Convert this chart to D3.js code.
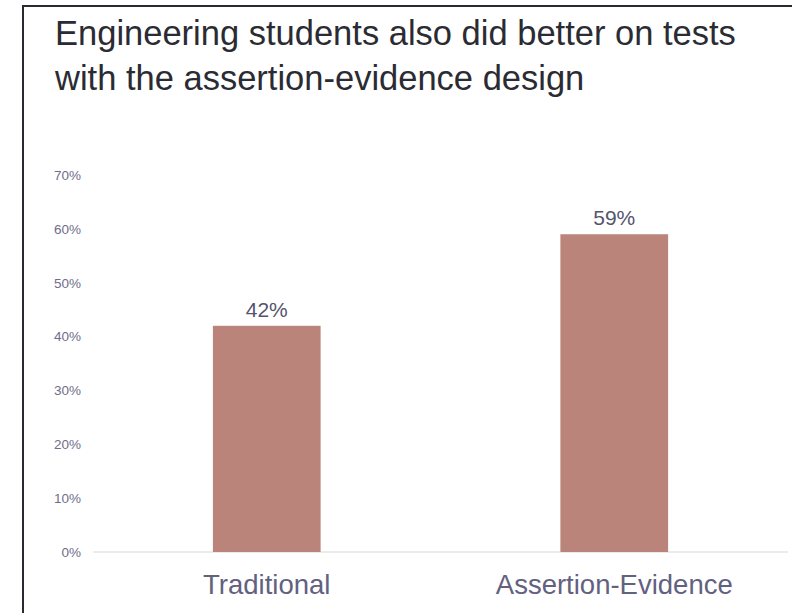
<!DOCTYPE html>
<html>
<head>
<meta charset="utf-8">
<script src="https://cdn.jsdelivr.net/npm/d3@7"></script>
<style>
  html, body { margin: 0; padding: 0; background: #ffffff; }
  svg { display: block; font-family: "Liberation Sans", Arial, sans-serif; }
</style>
</head>
<body>
<svg id="chart" width="792" height="613"></svg>
<script>
// Test scores by slide design
const categories = ["Traditional", "Assertion-Evidence"];
const scores = [42, 59];
const yTicks = [0, 10, 20, 30, 40, 50, 60, 70];
const titleLines = [
  "Engineering students also did better on tests",
  "with the assertion-evidence design"
];

const svg = d3.select("#chart");
const W = 792, H = 613;

// frame (left and top edges)
svg.append("path")
  .attr("d", `M23,${H} L23,6 L${W},6`)
  .attr("fill", "none")
  .attr("stroke", "#2a2a33")
  .attr("stroke-width", 2);

// title
svg.append("g")
  .selectAll("text")
  .data(titleLines)
  .join("text")
  .attr("x", 55)
  .attr("y", (d, i) => 45 + i * 45)
  .attr("font-size", 34.5)
  .attr("fill", "#2b2b33")
  .text(d => d);

const plot = { left: 93, right: 788, top: 175, bottom: 552 };

const x = d3.scaleBand()
  .domain(categories)
  .range([plot.left, plot.right])
  .paddingInner(0.69)
  .paddingOuter(0.345);

const y = d3.scaleLinear()
  .domain([0, 70])
  .range([plot.bottom, plot.top]);

// y axis labels
const yAxis = d3.axisLeft(y)
  .tickValues(yTicks)
  .tickFormat(d => d + "%")
  .tickSize(0)
  .tickPadding(0);

const yg = svg.append("g")
  .attr("transform", `translate(81,0)`)
  .call(yAxis);
yg.select(".domain").remove();
yg.selectAll("text")
  .attr("font-family", "'Liberation Sans', Arial, sans-serif")
  .attr("font-size", 13.5)
  .attr("fill", "#6e6d8a");

// baseline
svg.append("line")
  .attr("x1", plot.left)
  .attr("x2", plot.right)
  .attr("y1", y(0))
  .attr("y2", y(0))
  .attr("stroke", "#ececec")
  .attr("stroke-width", 2);

// bars
svg.append("g")
  .selectAll("rect")
  .data(scores)
  .join("rect")
  .attr("x", (d, i) => x(categories[i]))
  .attr("width", x.bandwidth())
  .attr("y", d => y(d))
  .attr("height", d => y(0) - y(d))
  .attr("fill", "#bb847a");

// value labels
svg.append("g")
  .selectAll("text")
  .data(scores)
  .join("text")
  .attr("x", (d, i) => x(categories[i]) + x.bandwidth() / 2)
  .attr("y", d => y(d) - 9)
  .attr("text-anchor", "middle")
  .attr("font-size", 21)
  .attr("fill", "#55546e")
  .text(d => d + "%");

// category labels
const xAxis = d3.axisBottom(x).tickSize(0).tickPadding(0);
const xg = svg.append("g")
  .attr("transform", `translate(0,${y(0) + 42})`)
  .call(xAxis);
xg.select(".domain").remove();
xg.selectAll("text")
  .attr("font-family", "'Liberation Sans', Arial, sans-serif")
  .attr("font-size", 27.5)
  .attr("dy", 0)
  .attr("fill", "#62617f");
</script>
</body>
</html>
